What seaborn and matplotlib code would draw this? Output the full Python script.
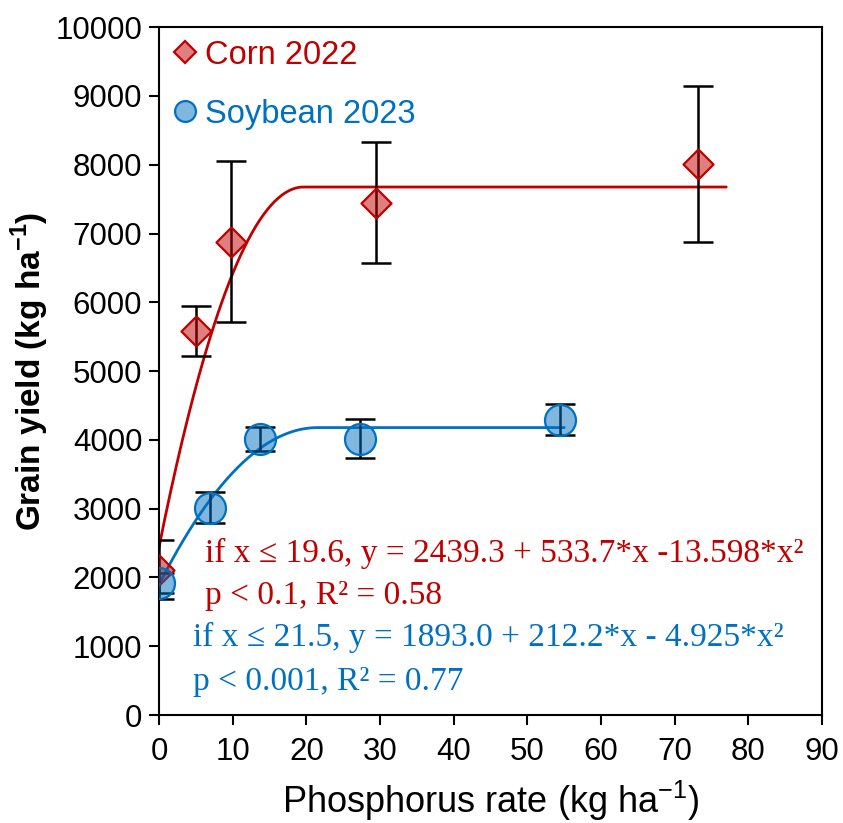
import numpy as np
import pandas as pd
import matplotlib
matplotlib.use("Agg")
import matplotlib.pyplot as plt
from matplotlib import font_manager
from matplotlib.lines import Line2D
import seaborn as sns

# ---- data ----
corn_x = [0, 5.0, 9.8, 29.4, 73.1]
corn_y = [2110, 5580, 6880, 7450, 8010]
corn_err = [430, 365, 1170, 880, 1140]

soy_x = [0, 6.9, 13.7, 27.3, 54.4]
soy_y = [1920, 3010, 4010, 4020, 4290]
soy_err = [150, 225, 170, 285, 225]

# quadratic-plateau fits as printed on the chart: a, b, c, join point, x max of line
corn_fit = [2439.3, 533.7, -13.598, 19.6, 77.0]
soy_fit = [1893.0, 212.2, -4.925, 21.5, 55.0]

xticks = [0, 10, 20, 30, 40, 50, 60, 70, 80, 90]
yticks = [0, 1000, 2000, 3000, 4000, 5000, 6000, 7000, 8000, 9000, 10000]

RED = "#C00000"
BLUE = "#0070C0"

sns.set_theme(style="white")
plt.rcParams["font.family"] = ["Liberation Sans", "DejaVu Sans"]
plt.rcParams["text.color"] = "black"
plt.rcParams["axes.labelcolor"] = "black"

names = {f.name for f in font_manager.fontManager.ttflist}
has_narrow = "Liberation Sans Narrow" in names
narrow = ["Liberation Sans Narrow", "Liberation Sans", "DejaVu Sans"]

fig = plt.figure(figsize=(8.43, 8.23), dpi=100)
ax = fig.add_axes([0.1886, 0.1312, 0.9751 - 0.1886, 0.967 - 0.1312])


def qp(fit):
    a, b, c, j, xmax = fit
    xs = np.linspace(0, xmax, 300)
    xc = np.minimum(xs, j)
    return pd.DataFrame({"x": xs, "y": a + b * xc + c * xc ** 2})


cf = qp(corn_fit)
sf = qp(soy_fit)
sns.lineplot(data=cf, x="x", y="y", color=RED, lw=2.0, ax=ax, zorder=2)
sns.lineplot(data=sf, x="x", y="y", color=BLUE, lw=2.0, ax=ax, zorder=2)

ax.errorbar(corn_x, corn_y, yerr=corn_err, fmt="none", ecolor="black",
            elinewidth=1.8, capsize=11, capthick=1.8, zorder=3)
ax.errorbar(soy_x, soy_y, yerr=soy_err, fmt="none", ecolor="black",
            elinewidth=1.8, capsize=11, capthick=1.8, zorder=3)

sns.scatterplot(x=corn_x, y=corn_y, marker="D", s=15.3 ** 2,
                color=matplotlib.colors.to_rgba(RED, 0.5), edgecolor=RED,
                linewidth=1.6, ax=ax, zorder=4)
sns.scatterplot(x=soy_x, y=soy_y, marker="o", s=22.3 ** 2,
                color=matplotlib.colors.to_rgba(BLUE, 0.5), edgecolor=BLUE,
                linewidth=1.6, ax=ax, zorder=4)

ax.set_xlim(0, 90)
ax.set_ylim(0, 10000)
ax.set_xticks(xticks)
ax.set_yticks(yticks)
ax.set_xticklabels([str(v) for v in xticks])
ax.set_yticklabels([str(v) for v in yticks])
ax.tick_params(axis="both", direction="out", length=7, width=1.5,
               labelsize=22.5, colors="black", pad=5, bottom=True, left=True)
ax.tick_params(axis="x", pad=9)
for sp in ax.spines.values():
    sp.set_visible(True)
    sp.set_color("black")
    sp.set_linewidth(1.5)

ax.set_xlabel(r"Phosphorus rate (kg ha$^{\mathregular{-1}}$)",
              fontsize=31 if has_narrow else 26, family=narrow,
              fontweight="normal", color="black")
ax.xaxis.set_label_coords(0.5, -0.093)
ax.set_ylabel(r"Grain yield (kg ha$^{\mathregular{-1}}$)",
              fontsize=29 if has_narrow else 24, family=narrow,
              fontweight="bold", color="black")
ax.yaxis.set_label_coords(-0.163, 0.5)

serif = ["Liberation Serif", "DejaVu Serif"]
ax.text(6.2, 2355, "if x ≤ 19.6, y = 2439.3 + 533.7*x -13.598*x²",
        color=RED, fontsize=24, family=serif, va="center", ha="left")
ax.text(6.2, 1730, "p < 0.1, R² = 0.58",
        color=RED, fontsize=24, family=serif, va="center", ha="left")
ax.text(4.6, 1134, "if x ≤ 21.5, y = 1893.0 + 212.2*x - 4.925*x²",
        color=BLUE, fontsize=24, family=serif, va="center", ha="left")
ax.text(4.6, 480, "p < 0.001, R² = 0.77",
        color=BLUE, fontsize=24, family=serif, va="center", ha="left")

handles = [
    Line2D([], [], marker="D", ls="none", ms=10.7,
           markerfacecolor=matplotlib.colors.to_rgba(RED, 0.5),
           markeredgecolor=RED, markeredgewidth=1.6),
    Line2D([], [], marker="o", ls="none", ms=15,
           markerfacecolor=matplotlib.colors.to_rgba(BLUE, 0.5),
           markeredgecolor=BLUE, markeredgewidth=1.6),
]
leg = ax.legend(handles, ["Corn 2022", "Soybean 2023"], loc="upper left",
                bbox_to_anchor=(-0.01, 1.01), frameon=False, fontsize=23.5,
                handlelength=0.8, handletextpad=0.2, labelspacing=0.85,
                borderaxespad=0.2)
for t, c in zip(leg.get_texts(), [RED, BLUE]):
    t.set_color(c)

fig.savefig("out.png", dpi=100)
